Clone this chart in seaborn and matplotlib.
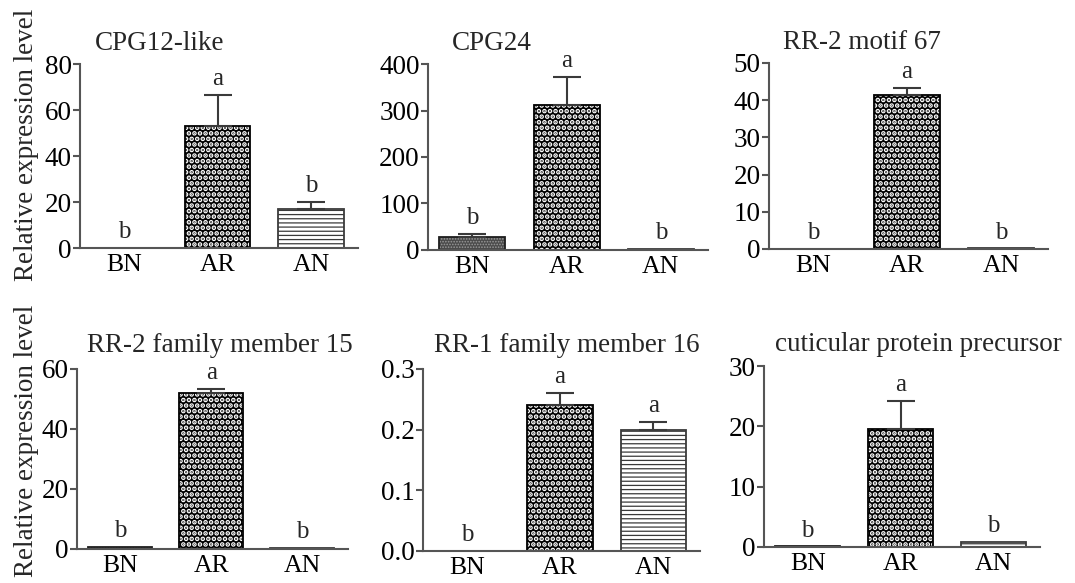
import numpy as np
import pandas as pd
import matplotlib
matplotlib.use("Agg")
import matplotlib.pyplot as plt
from matplotlib.patches import Rectangle
import seaborn as sns

# ---- data ---------------------------------------------------------------
groups = ["BN", "AR", "AN"]

titles = ["CPG12-like", "CPG24", "RR-2 motif 67",
          "RR-2 family member 15", "RR-1 family member 16",
          "cuticular protein precursor"]

cpg12_mean = [0.0, 53.0, 17.0]
cpg12_err = [0.0, 13.5, 3.0]
cpg24_mean = [27.0, 312.0, 2.0]
cpg24_err = [8.0, 61.0, 0.0]
rr2_m67_mean = [0.0, 41.5, 0.2]
rr2_m67_err = [0.0, 1.8, 0.0]
rr2_f15_mean = [0.8, 52.0, 0.3]
rr2_f15_err = [0.0, 1.5, 0.0]
rr1_f16_mean = [0.0, 0.24, 0.20]
rr1_f16_err = [0.0, 0.021, 0.013]
cpp_mean = [0.1, 19.5, 0.8]
cpp_err = [0.0, 4.7, 0.0]

letters = [["b", "a", "b"], ["b", "a", "b"], ["b", "a", "b"],
           ["b", "a", "b"], ["b", "a", "a"], ["b", "a", "b"]]

y_max = [80, 400, 50, 60, 0.3, 30]
y_step = [20, 100, 10, 20, 0.1, 10]
y_fmt = ["{:.0f}", "{:.0f}", "{:.0f}", "{:.0f}", "{:.1f}", "{:.0f}"]

means = [cpg12_mean, cpg24_mean, rr2_m67_mean,
         rr2_f15_mean, rr1_f16_mean, cpp_mean]
errs = [cpg12_err, cpg24_err, rr2_m67_err,
        rr2_f15_err, rr1_f16_err, cpp_err]

# ---- style --------------------------------------------------------------
sns.set_theme(style="ticks")
plt.rcParams["font.family"] = ["Liberation Serif", "DejaVu Serif"]

AXIS_COLOR = "#555555"
# face colour, hatch colour, hatch pattern, hatch line width, outline colour
bar_styles = {
    "BN": dict(face="#4a4a4a", hcol="#9a9a9a", hatch="......", hlw=0.8,
               outline="#1e1e1e"),
    "AR": dict(face="black", hcol="white", hatch="...", hlw=2.4,
               outline="black"),
    "AN": dict(face="white", hcol="#3a3a3a", hatch="----", hlw=0.9,
               outline="#3a3a3a"),
}

W, H = 1075, 583
fig = plt.figure(figsize=(W / 100, H / 100), dpi=100)

# axes boxes in pixels: left, top, right, bottom
boxes = [(80, 64, 358, 248), (428, 64, 708, 250), (769, 63, 1048, 249),
         (77, 369, 348, 549), (423, 369, 700, 551), (764, 366, 1040, 547)]
title_dx = [11, 17, 10, 7, 8, 8]
title_dy = [10, 10, 10, 12, 12, 11]

for k in range(6):
    x0, y0, x1, y1 = boxes[k]
    ax = fig.add_axes([x0 / W, 1 - y1 / H, (x1 - x0) / W, (y1 - y0) / H])

    df = pd.DataFrame({"group": groups, "value": means[k]})
    sns.barplot(data=df, x="group", y="value", order=groups, color="white",
                width=0.7, errorbar=None, ax=ax)

    bars = list(ax.patches)
    for patch, g in zip(bars, groups):
        st = bar_styles[g]
        patch.set_facecolor(st["face"])
        patch.set_edgecolor(st["hcol"])   # hatch takes the edge colour
        patch.set_hatch(st["hatch"])
        patch.set_linewidth(0)
        if hasattr(patch, "set_hatch_linewidth"):
            patch.set_hatch_linewidth(st["hlw"])
        # crisp outline on top of the hatched fill
        ax.add_patch(Rectangle(patch.get_xy(), patch.get_width(),
                               patch.get_height(), fill=False,
                               edgecolor=st["outline"], linewidth=1.3,
                               zorder=patch.get_zorder() + 0.1))

    pos = np.arange(len(groups))
    m = np.asarray(means[k], dtype=float)
    e = np.asarray(errs[k], dtype=float)
    has = e > 0
    if has.any():
        ax.errorbar(pos[has], m[has], yerr=[np.zeros(has.sum()), e[has]],
                    fmt="none", ecolor="#3a3a3a", elinewidth=1.5,
                    capsize=10, capthick=1.5, zorder=5)

    for i, lab in enumerate(letters[k]):
        ax.annotate(lab, xy=(pos[i], m[i] + e[i]), xytext=(0, 7),
                    textcoords="offset points", ha="center", va="baseline",
                    fontsize=18, annotation_clip=False)

    ax.set_xlim(-0.47, 2.5)
    ax.set_ylim(0, y_max[k])
    ticks = np.arange(0, y_max[k] + y_step[k] / 2, y_step[k])
    ax.set_yticks(ticks)
    ax.set_yticklabels([y_fmt[k].format(t) for t in ticks])
    ax.set_xticks(pos)
    ax.set_xticklabels(groups)
    ax.set_xticks([1], minor=True)
    ax.set_xlabel("")
    ax.set_ylabel("")

    for side in ("top", "right"):
        ax.spines[side].set_visible(False)
    for side in ("left", "bottom"):
        ax.spines[side].set_color(AXIS_COLOR)
        ax.spines[side].set_linewidth(1.5)
    ax.spines["left"].set_bounds(0, y_max[k])

    ax.tick_params(axis="y", length=5, width=1.5, color=AXIS_COLOR,
                   labelsize=19.5, pad=1, labelcolor="black")
    ax.tick_params(axis="x", which="major", length=0, labelsize=18.5,
                   pad=4, labelcolor="black")
    ax.tick_params(axis="x", which="minor", length=5.5, width=1.2,
                   color=AXIS_COLOR)

    ax.annotate(titles[k], xy=(0, 1), xycoords="axes fraction",
                xytext=(title_dx[k], title_dy[k]), textcoords="offset points",
                ha="left", va="baseline", fontsize=19.5, annotation_clip=False)

for yc in (145, 441):
    fig.text(27 / W, 1 - yc / H, "Relative expression level", rotation=90,
             ha="center", va="center", fontsize=19.5)

fig.savefig("out.png", dpi=100, facecolor="white")
